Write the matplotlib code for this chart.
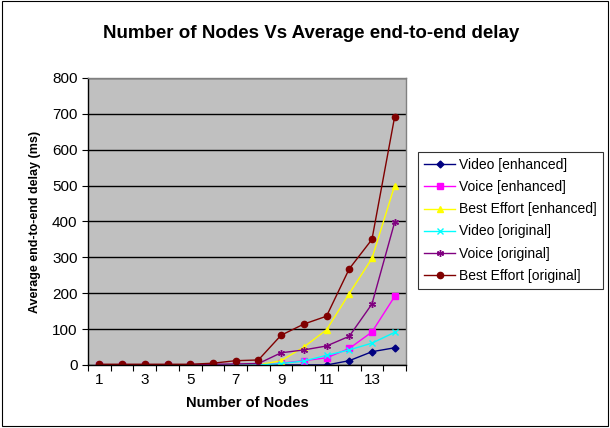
import matplotlib
matplotlib.use("Agg")
import matplotlib.pyplot as plt
from matplotlib.patches import Rectangle

plt.rcParams['font.family'] = ['Liberation Sans', 'DejaVu Sans']

nodes = list(range(1, 15))
video_enh = [0, 0, 0, 0, 0, 0, 0, 0, 0, 0, 0, 12, 37, 48]
voice_enh = [0, 0, 0, 0, 0, 0, 0, 0, 5, 12, 20, 46, 92, 191]
be_enh = [0, 0, 0, 0, 0, 0, 0, 0, 12, 50, 98, 199, 297, 500]
video_orig = [0, 0, 0, 0, 0, 0, 0, 0, 4, 11, 27, 42, 61, 91]
voice_orig = [1, 1, 1, 1, 1, 2, 3, 4, 34, 42, 53, 80, 170, 398]
be_orig = [2, 2, 2, 2, 2, 5, 12, 14, 83, 114, 136, 268, 350, 692]

series = [
    ("Video [enhanced]", video_enh, "#000080", "D", 3.5),
    ("Voice [enhanced]", voice_enh, "#FF00FF", "s", 4.5),
    ("Best Effort [enhanced]", be_enh, "#FFFF00", "^", 5),
    ("Video [original]", video_orig, "#00FFFF", "x", 4),
    ("Voice [original]", voice_orig, "#800080", (6, 2, 0), 5),
    ("Best Effort [original]", be_orig, "#800000", "o", 4.5),
]

fig = plt.figure(figsize=(6.1, 4.28), dpi=100)
fig.patches.append(Rectangle((0.003, 0.005), 0.994, 0.993, transform=fig.transFigure,
                             fill=False, edgecolor="black", linewidth=0.8))

ax = fig.add_axes([0.1443, 0.1472, 0.5213, 0.6706])
ax.set_facecolor("#C0C0C0")
for s in ax.spines.values():
    s.set_edgecolor("#808080")
    s.set_linewidth(1)
ax.spines['bottom'].set_edgecolor("black")
ax.spines['left'].set_edgecolor("black")

for name, vals, col, mk, ms in series:
    ax.plot(nodes, vals, color=col, marker=mk, markersize=ms, linewidth=1,
            markeredgecolor=col, markerfacecolor=col, markeredgewidth=1, label=name)

ax.set_xlim(0.5, 14.5)
ax.set_ylim(0, 800)
ax.set_yticks(range(0, 801, 100))
ax.yaxis.grid(True, color="black", linewidth=1)
ax.set_axisbelow(True)
ax.set_xticks([n + 0.5 for n in range(0, 15)])
ax.set_xticklabels([])
ax.set_xticks(nodes[::2], minor=True)
ax.set_xticklabels([str(n) for n in nodes[::2]], minor=True)
ax.tick_params(axis='x', which='major', direction='out', length=4, color="black")
ax.tick_params(axis='x', which='minor', length=0, labelsize=11, pad=6)
ax.tick_params(axis='y', direction='out', length=4, labelsize=11)

ax.set_xlabel("Number of Nodes", fontsize=10.5, fontweight="bold", labelpad=6)
ax.set_ylabel("Average end-to-end delay (ms)", fontsize=9, fontweight="bold", labelpad=8)
fig.text(0.51, 0.922, "Number of Nodes Vs Average end-to-end delay", ha="center",
         va="center", fontsize=13.5, fontweight="bold")

leg = ax.legend(loc="upper left", bbox_to_anchor=(1.038, 0.742), fontsize=10,
                frameon=True, fancybox=False, edgecolor="black", handlelength=2.2,
                borderpad=0.45, labelspacing=0.58, handletextpad=0.3, borderaxespad=0)
leg.get_frame().set_linewidth(0.8)

fig.savefig("out.png", dpi=100)
